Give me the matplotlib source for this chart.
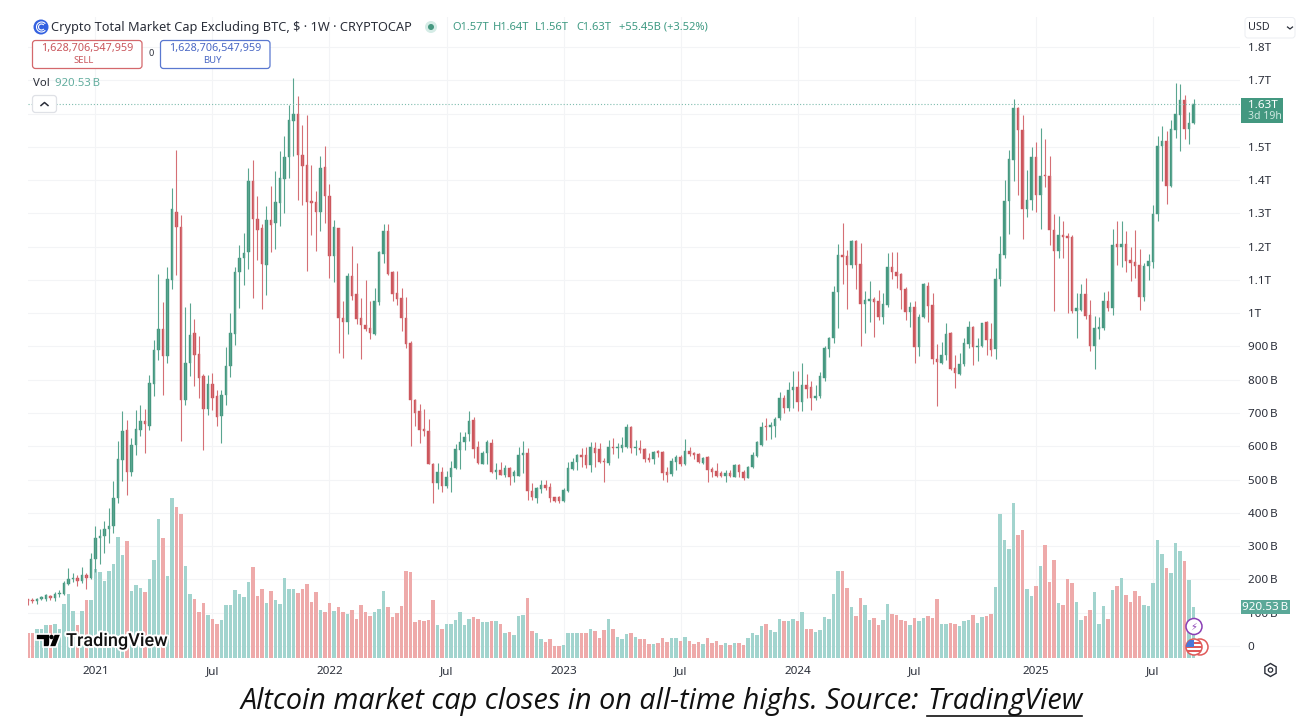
import matplotlib
matplotlib.use('Agg')
import matplotlib.pyplot as plt
import matplotlib.patheffects as pe
from matplotlib.patches import Circle, Rectangle, FancyBboxPatch, RegularPolygon, Polygon, Arc

plt.rcParams['font.family'] = ['Noto Sans', 'DejaVu Sans']

# weekly candles, in billions of USD
opens = [140,138,135,142,141,150,143,155,155,185,
200,205,195,213,205,260,325,330,352,360,
445,560,648,522,605,650,675,662,788,888,
953,870,1100,1305,1260,740,850,940,877,810,
713,788,752,690,753,840,938,1123,1165,1185,
1397,1283,1256,1146,1279,1271,1331,1403,1468,1579,
1598,1476,1446,1338,1333,1303,1438,1351,1171,1255,
986,974,1111,1059,986,964,956,939,1034,1179,
1246,1124,1061,1046,986,911,738,706,653,646,
548,491,523,481,509,534,589,614,636,679,
599,546,581,611,523,528,514,534,511,511,
574,581,467,444,472,484,477,449,449,436,
466,532,554,574,574,544,594,591,557,551,
599,594,594,597,659,594,594,591,566,561,
586,582,524,516,554,569,547,587,579,576,
551,569,531,526,519,511,519,509,544,524,
504,537,572,604,661,657,662,685,745,715,
770,777,732,783,777,745,750,805,892,925,
1063,1175,1172,1145,1217,1148,1027,1038,1042,1038,
990,1025,1140,1123,1117,1074,1005,1020,898,988,
1083,1025,862,850,873,940,835,818,847,907,
960,897,900,973,921,891,1103,1176,1336,1461,
1616,1549,1313,1339,1469,1354,1416,1413,1251,1186,
1234,1231,1228,1008,1011,1059,994,901,953,956,
1038,1016,1209,1198,1209,1159,1153,1146,1048,1141,
1154,1298,1501,1518,1381,1551,1596,1641,1553,1571]

highs = [142,143,145,151,156,154,162,168,196,233,
220,212,238,220,278,362,352,376,416,495,
615,705,678,625,710,723,712,815,920,1118,
1035,1140,1375,1491,1295,1020,1032,983,932,818,
815,820,770,770,898,1002,1140,1205,1240,1436,
1460,1351,1269,1323,1381,1428,1486,1533,1626,1708,
1653,1566,1596,1446,1368,1471,1503,1389,1281,1255,
1036,1121,1203,1151,1046,1101,1036,1076,1186,1269,
1268,1128,1128,1076,1048,916,741,726,711,681,
551,549,539,526,556,606,643,643,706,689,
616,586,619,621,549,553,544,537,529,597,
617,594,489,479,499,499,491,449,451,474,
554,564,576,594,599,612,614,609,564,619,
624,611,629,666,662,619,619,594,579,587,
589,586,537,564,574,574,621,597,584,579,
569,571,537,549,527,529,529,547,547,529,
541,584,617,672,684,672,689,762,755,793,
827,827,850,817,795,785,823,900,930,1082,
1208,1270,1190,1220,1220,1212,1067,1098,1050,1070,
1060,1182,1185,1185,1120,1078,1035,1038,998,1090,
1093,1062,907,913,970,945,873,880,925,978,
963,925,972,978,970,1136,1231,1399,1489,1644,
1619,1596,1431,1498,1514,1556,1524,1473,1299,1291,
1276,1241,1236,1061,1088,1106,1041,991,989,1063,
1066,1253,1278,1278,1246,1198,1251,1194,1151,1179,
1326,1531,1561,1548,1581,1693,1689,1656,1604,1644]

lows = [122,128,127,138,136,137,134,148,152,182,
192,180,188,172,200,222,245,280,310,340,
430,495,455,510,575,630,580,648,750,860,
753,850,1072,1115,615,725,810,780,745,590,
695,710,662,610,725,808,905,1015,1085,1132,
1047,1159,1014,1056,1183,1193,1263,1301,1406,1471,
1341,1326,1126,1236,1188,1246,1271,1106,1094,879,
866,939,1041,969,861,946,921,936,1024,1151,
1114,1036,1026,946,896,601,661,611,631,546,
431,473,464,476,463,531,531,589,616,566,
546,546,546,521,503,514,509,484,494,511,
519,439,439,429,459,469,434,434,431,432,
464,529,529,539,534,524,539,549,494,544,
577,564,584,594,579,574,579,554,552,547,
569,499,494,512,529,541,544,572,562,551,
547,492,509,509,507,494,507,507,507,499,
504,534,569,601,619,621,627,680,700,705,
715,705,705,745,710,738,745,795,867,910,
955,1088,1013,1135,1072,902,940,975,930,980,
968,1018,1103,1075,1012,980,960,850,870,985,
975,848,722,848,860,830,775,815,840,895,
845,855,898,875,870,863,1083,1166,1239,1396,
1356,1223,1289,1311,1303,1253,1379,1206,1006,1166,
1166,1001,1001,926,1006,983,886,833,923,949,
1006,994,1146,1138,1123,1096,1106,1009,1036,1101,
1136,1278,1398,1329,1379,1526,1486,1523,1509,1569]

closes = [135,135,142,148,152,143,155,160,188,200,
205,195,213,205,260,325,332,352,362,445,
562,645,522,605,652,675,668,790,890,953,
870,1102,1312,1260,740,850,935,875,805,713,
788,745,688,755,842,940,1123,1165,1182,1398,
1282,1251,1149,1279,1266,1333,1406,1468,1581,1598,
1476,1443,1333,1331,1303,1436,1351,1171,1259,986,
974,1111,1053,983,964,953,941,1036,1183,1246,
1118,1059,1044,986,906,738,701,649,646,548,
491,523,481,509,534,591,614,628,676,591,
549,581,613,523,528,514,534,507,524,574,
581,467,449,474,484,474,444,436,436,469,
534,554,574,569,544,597,579,554,554,599,
596,597,604,659,594,597,589,561,559,584,
581,519,514,557,567,546,587,577,574,554,
566,529,524,512,511,519,511,544,522,504,
537,574,612,659,657,664,682,745,715,770,
777,732,783,773,745,752,810,895,927,1063,
1175,1168,1145,1217,1145,1028,1040,1042,1033,988,
1028,1140,1123,1113,1070,1005,1020,898,988,1087,
1023,862,852,875,938,833,820,848,910,958,
897,902,970,920,889,1104,1179,1336,1464,1616,
1549,1313,1339,1469,1356,1413,1413,1251,1186,1234,
1228,1226,1008,1016,1059,991,901,956,959,1038,
1016,1206,1198,1209,1156,1151,1143,1048,1143,1156,
1299,1503,1518,1381,1553,1598,1641,1553,1573,1629]

volumes = [456,450,528,528,588,600,606,528,978,1146,
840,600,840,1038,1050,1608,1548,1386,1566,1698,
2178,1848,2100,1200,1308,1260,1188,1428,1758,2508,
2166,1470,2886,2718,2598,1656,1158,1068,828,996,
780,708,606,690,948,960,1218,1158,1098,1368,
1638,1110,1248,990,1206,1038,978,1446,1248,1236,
1176,1248,1326,1008,1188,870,828,990,840,918,
828,798,858,696,948,822,750,828,888,1206,
918,738,810,936,1566,1554,648,690,666,690,
1038,594,516,612,618,684,834,594,708,744,
696,654,654,672,672,612,444,474,408,756,
774,1074,486,444,342,294,336,222,216,228,
456,444,456,456,456,528,486,360,504,702,
528,378,348,426,444,378,348,336,252,252,
270,360,294,360,360,306,378,306,258,288,
252,360,270,306,228,270,228,276,276,228,
360,456,408,576,606,504,474,708,666,666,
696,666,834,528,516,468,504,738,696,1152,
1566,1560,1266,918,750,1086,948,678,720,588,
690,978,786,780,690,660,600,714,672,714,
750,726,1056,618,612,630,612,570,672,684,
768,630,738,750,798,1278,2586,2118,1956,2796,
2220,2298,1236,1110,1290,1656,2040,1368,1758,990,
960,1428,1356,1008,690,750,870,1188,606,930,
708,1218,1290,1446,1140,1008,1206,1110,960,930,
1356,2118,1878,1626,1536,2070,1926,1740,1398,920]

year_ticks = [15, 41, 67, 93, 119, 145, 171, 197, 224, 250]
year_labels = ['2021', 'Jul', '2022', 'Jul', '2023', 'Jul', '2024', 'Jul', '2025', 'Jul']
price_ticks = [0, 100, 200, 300, 400, 500, 600, 700, 800, 900, 1000, 1100, 1200, 1300, 1400, 1500, 1600, 1700, 1800]
# 1.6T sits behind the last-price tag in the reference, so it stays blank
price_labels = ['0', '100\u2009B', '200\u2009B', '300\u2009B', '400\u2009B', '500\u2009B', '600\u2009B', '700\u2009B', '800\u2009B', '900\u2009B',
                '1T', '1.1T', '1.2T', '1.3T', '1.4T', '1.5T', '', '1.7T', '1.8T']

GREEN = '#459880'
RED = '#cc565c'
GREEN_WICK = '#5aa590'
RED_WICK = '#d56f75'
VOL_GREEN = '#a2d4ce'
VOL_RED = '#eeaaaa'
TEXT = '#2a2e39'

W, H = 1316, 718
fig = plt.figure(figsize=(W / 100, H / 100), dpi=100, facecolor='white')

# pane spans x 27.5..1240 and y 17..658 in pixels
rect = [27.5 / W, (H - 658) / H, (1240 - 27.5) / W, (658 - 17) / H]
xlim = (-0.11, 269.33)
ylim = (-36, 1890)

ax_bg = fig.add_axes(rect, zorder=1)
ax_bg.set_xlim(xlim)
ax_bg.set_ylim(ylim)
for s in ax_bg.spines.values():
    s.set_visible(False)
ax_bg.yaxis.tick_right()
ax_bg.set_yticks(price_ticks)
ax_bg.set_yticklabels(price_labels, fontsize=8.4, color=TEXT)
ax_bg.set_xticks(year_ticks)
ax_bg.set_xticklabels(year_labels, fontsize=8.4, color=TEXT)
for lab in ax_bg.get_xticklabels():
    if lab.get_text() != 'Jul':
        lab.set_fontweight('bold')
ax_bg.tick_params(axis='both', length=0)
ax_bg.tick_params(axis='y', pad=5.5)
ax_bg.tick_params(axis='x', pad=6)
ax_bg.grid(True, color='#f3f4f6', lw=0.8)
ax_bg.set_axisbelow(True)

# volume lives on its own scale, 18B per pixel
ax_vol = fig.add_axes(rect, zorder=2)
ax_vol.set_xlim(xlim)
ax_vol.set_ylim(0, 11538)
ax_vol.axis('off')

ax = fig.add_axes(rect, zorder=3)
ax.set_xlim(xlim)
ax.set_ylim(ylim)
ax.axis('off')

idx = list(range(len(closes)))
up = [c >= o for o, c in zip(opens, closes)]
ax_vol.bar(idx, volumes, width=0.74, color=[VOL_GREEN if u else VOL_RED for u in up], linewidth=0)

ax.vlines(idx, lows, highs, colors=[GREEN_WICK if u else RED_WICK for u in up], linewidth=0.8)
ax.bar(idx, [abs(c - o) for o, c in zip(opens, closes)], bottom=[min(o, c) for o, c in zip(opens, closes)],
       width=0.66, color=[GREEN if u else RED for u in up], edgecolor=[GREEN if u else RED for u in up], linewidth=0.3)
ax.axhline(closes[-1], color='#7fbcae', lw=0.8, ls=(0, (1, 1.8)))

# everything else is placed in pixels on a transparent overlay
ov = fig.add_axes([0, 0, 1, 1], zorder=4)
ov.set_xlim(0, W)
ov.set_ylim(H, 0)
ov.axis('off')


def box(x0, y0, x1, y1, ec, fc='white', lw=0.9, r=3):
    ov.add_patch(FancyBboxPatch((x0, y0), x1 - x0, y1 - y0, boxstyle='round,pad=0,rounding_size=%s' % r,
                                ec=ec, fc=fc, lw=lw))


# symbol logo
ov.add_patch(Circle((41, 27), 7.5, fc='#3461e0', ec='none'))
for d in [10, 6]:
    ov.add_patch(Arc((41.5, 27), d, d, theta1=40, theta2=320, ec='white', lw=0.8))
ov.text(51, 27, 'Crypto Total Market Cap Excluding BTC, $ \u00b7 1W \u00b7 CRYPTOCAP', fontsize=9.2, color=TEXT, va='center')
ov.add_patch(Circle((431, 27), 6, fc='#d5ece6', ec='none'))
ov.add_patch(Circle((431, 27), 3, fc='#459880', ec='none'))
ohlc_bits = [(452, 'O1.57T'), (493, 'H1.64T'), (535, 'L1.56T'), (576, 'C1.63T'), (619, '+55.45B (+3.52%)')]
for x, s in ohlc_bits:
    ov.text(x, 27, s, fontsize=8, color='#3f9a83', va='center')

# sell / buy buttons
box(32.5, 40.5, 142, 68.5, '#d4686c')
ov.text(87, 48, '1,628,706,547,959', fontsize=7.8, color='#c9565c', ha='center', va='center')
ov.text(84, 60.5, 'SELL', fontsize=6.8, color='#c9565c', ha='center', va='center')
ov.text(151, 54, '0', fontsize=6.6, color=TEXT, ha='center', va='center')
box(160.5, 40.5, 270, 68.5, '#5a78d0')
ov.text(215, 48, '1,628,706,547,959', fontsize=7.8, color='#4a68c4', ha='center', va='center')
ov.text(212, 60.5, 'BUY', fontsize=6.8, color='#4a68c4', ha='center', va='center')

ov.text(33, 83, 'Vol', fontsize=8.2, color=TEXT, va='center')
ov.text(55, 83, '920.53\u2009B', fontsize=8.2, color='#62ad9e', va='center')
box(32.5, 95.5, 56.5, 112.5, '#dfe1e6')
ov.plot([41, 44.5, 48], [105.5, 102.5, 105.5], color=TEXT, lw=1.1)

# currency selector
box(1245, 17.5, 1295, 38, '#eceef2', lw=0.7)
ov.text(1248, 27.5, 'USD', fontsize=7.8, color=TEXT, va='center')
ov.plot([1287.5, 1290, 1292.5], [27, 29, 27], color=TEXT, lw=0.9)

# price tags
ov.add_patch(Rectangle((1241, 98), 42, 25, fc='#439880', ec='none'))
ov.text(1248, 105, '1.63T', fontsize=8.4, color='white', va='center', fontweight='medium')
ov.text(1248, 116.5, '3d 19h', fontsize=7.6, color='#cfe8e0', va='center')
ov.add_patch(Rectangle((1241, 600), 49, 14, fc='#5aa898', ec='none'))
ov.text(1265.5, 607, '920.53\u2009B', fontsize=8.4, color='white', ha='center', va='center')

# settings gear
ov.add_patch(RegularPolygon((1270.5, 670), 6, radius=6.5, fc='white', ec=TEXT, lw=1))
ov.add_patch(Circle((1270.5, 670), 2.2, fc='white', ec=TEXT, lw=0.9))

# event markers
ov.add_patch(Circle((1194, 626.5), 8, fc='white', ec='#8a3fb5', lw=1.1))
ov.text(1194, 626.5, '\u26a1', fontsize=7, color='#8a3fb5', ha='center', va='center', family=['DejaVu Sans'])
ov.add_patch(Circle((1200, 647), 8, fc='white', ec='#e05a5a', lw=1.1))
flag = Circle((1194, 647), 8, fc='white', ec='#e05a5a', lw=1.1)
ov.add_patch(flag)
for y in [642, 646, 650]:
    st = Rectangle((1185, y), 18, 2, fc='#e05a5a', ec='none')
    ov.add_patch(st)
    st.set_clip_path(flag)
can = Rectangle((1186, 640), 8, 6.5, fc='#4a78d8', ec='none')
ov.add_patch(can)
can.set_clip_path(flag)

# tradingview watermark
halo = [pe.withStroke(linewidth=3, foreground='white')]
for shape in ([(36, 634), (50, 634), (50, 647), (43, 647), (43, 640), (36, 640)],
              [(54, 634), (61, 634), (56, 647), (49, 647)]):
    ov.add_patch(Polygon(shape, fc='black', ec='white', lw=1.2))
ov.add_patch(Circle((51.5, 637), 2.2, fc='black', ec='none'))
ov.text(66, 641, 'TradingView', fontsize=13, color='#111111', va='center', family=['Roboto'],
        fontweight='medium', path_effects=halo)

# caption with underlined source
r = fig.canvas.get_renderer()
t1 = ov.text(241, 702, 'Altcoin market cap closes in on all-time highs. Source: ', fontsize=20.7, style='italic',
             color='#111111', va='center', family=['Open Sans'])
x2 = ov.transData.inverted().transform((t1.get_window_extent(r).x1, 0))[0]
t2 = ov.text(x2, 702, 'TradingView', fontsize=20.7, style='italic', color='#111111', va='center', family=['Open Sans'])
x3 = ov.transData.inverted().transform((t2.get_window_extent(r).x1, 0))[0]
ov.plot([x2, x3], [715.5, 715.5], color='#111111', lw=1.2)

fig.savefig('out.png', dpi=100, facecolor='white')
